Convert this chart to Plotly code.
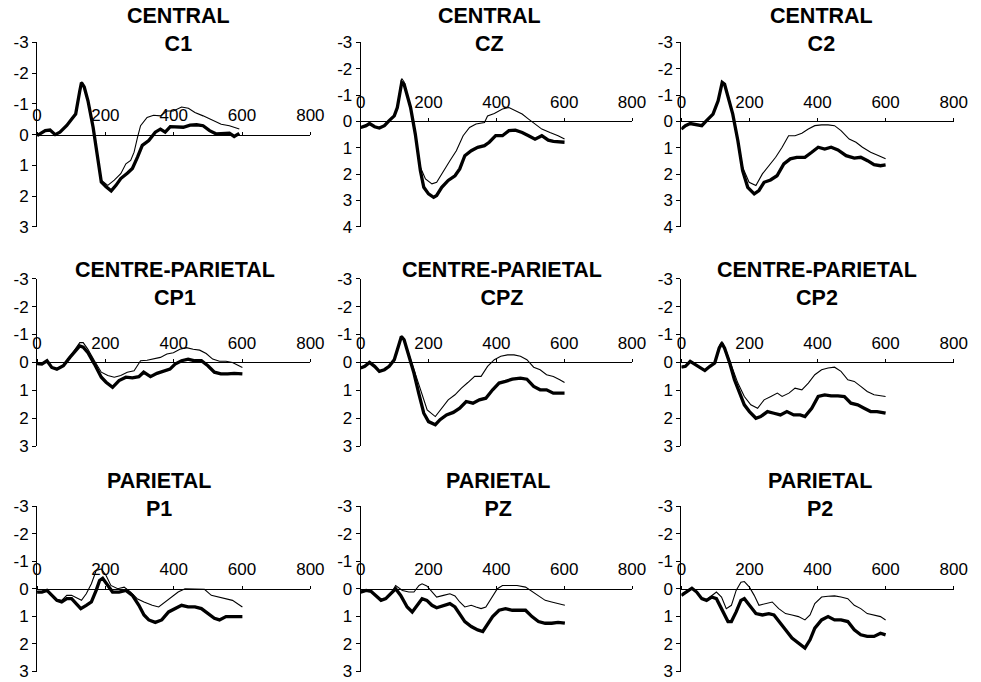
import plotly.graph_objects as go

# ---------------- data (time in ms, amplitude in microvolts; negative plotted up) ----------------
REGIONS = ["CENTRAL", "CENTRAL", "CENTRAL",
           "CENTRE-PARIETAL", "CENTRE-PARIETAL", "CENTRE-PARIETAL",
           "PARIETAL", "PARIETAL", "PARIETAL"]
ELECTRODES = ["C1", "CZ", "C2", "CP1", "CPZ", "CP2", "P1", "PZ", "P2"]
Y_BOTTOM = [3, 4, 4, 3, 3, 3, 3, 3, 3]
Y_TOP = -3
X_TICKS = [0, 200, 400, 600, 800]

C1_thick_t = [0,24,38,53,67,87,101,113,125,130,138,149,164,173,188,202,217,231,245,265,279,294,308,327,346,361,375,390,409,428,448,467,486,505,525,544,563,577,592]
C1_thick_v = [0.03,-0.13,-0.15,0,-0.08,-0.3,-0.5,-0.67,-1.42,-1.69,-1.55,-1.1,-0.24,0.4,1.54,1.7,1.83,1.65,1.43,1.25,1.1,0.73,0.35,0.19,-0.08,-0.18,-0.08,-0.26,-0.26,-0.24,-0.31,-0.32,-0.29,-0.13,-0.02,-0.04,-0.05,0.06,-0.04]
C1_thin_t = [0,24,38,53,67,87,101,113,125,130,138,149,164,173,188,207,226,245,260,274,284,294,303,322,341,361,380,399,423,443,462,486,515,539,563,592]
C1_thin_v = [0.03,-0.13,-0.15,0,-0.08,-0.3,-0.5,-0.67,-1.45,-1.72,-1.58,-1.15,-0.3,0.35,1.48,1.65,1.48,1.27,0.95,0.84,0.57,0.09,-0.29,-0.56,-0.63,-0.61,-0.77,-0.77,-0.9,-0.86,-0.72,-0.61,-0.47,-0.34,-0.29,-0.18]

CZ_thick_t = [0,16,26,41,55,70,84,99,108,121,128,137,147,161,176,186,200,215,224,239,258,278,292,307,326,345,365,379,398,418,437,456,476,495,514,534,553,568,587,601]
CZ_thick_v = [0.23,0.16,0.08,0.2,0.25,0.16,-0.03,-0.21,-0.53,-1.48,-1.41,-1.03,-0.53,0.48,1.87,2.5,2.75,2.88,2.81,2.5,2.24,2.06,1.8,1.3,1.11,0.98,0.92,0.79,0.54,0.54,0.35,0.33,0.42,0.54,0.67,0.54,0.71,0.76,0.76,0.79]
CZ_thin_t = [0,16,26,41,55,70,84,99,108,121,128,137,147,161,176,191,210,224,244,263,282,302,321,340,365,374,394,418,437,456,476,495,514,534,558,582,601]
CZ_thin_v = [0.23,0.16,0.08,0.2,0.25,0.16,-0.03,-0.21,-0.55,-1.63,-1.5,-1.05,-0.5,0.45,1.74,2.18,2.37,2.31,1.87,1.49,1.11,0.54,0.23,0.1,0.04,-0.21,-0.3,-0.47,-0.53,-0.4,-0.28,-0.09,0.1,0.29,0.42,0.54,0.67]

C2_thick_t = [0,12,26,45,60,74,93,108,120,127,140,151,166,180,195,214,228,243,262,281,301,320,339,363,383,402,421,440,460,484,508,527,547,566,585,600]
C2_thick_v = [0.29,0.16,0.08,0.13,0.16,-0.03,-0.28,-0.78,-1.48,-1.41,-0.78,-0.28,0.73,1.87,2.5,2.75,2.62,2.31,2.22,2.06,1.61,1.42,1.36,1.36,1.17,0.98,1.05,0.98,1.08,1.3,1.39,1.36,1.49,1.64,1.68,1.65]
C2_thin_t = [0,12,26,45,60,74,93,108,120,127,140,151,166,180,199,219,238,257,277,296,315,334,354,373,392,412,431,450,469,493,513,532,556,580,600]
C2_thin_v = [0.29,0.16,0.08,0.13,0.16,-0.03,-0.28,-0.78,-1.5,-1.42,-0.8,-0.3,0.7,1.74,2.31,2.43,1.99,1.68,1.36,0.98,0.54,0.54,0.45,0.29,0.16,0.13,0.13,0.16,0.35,0.67,0.79,0.98,1.17,1.3,1.42]

CP1_thick_t = [0,14,29,43,58,77,96,111,125,135,149,168,188,202,221,240,260,279,298,312,332,351,370,389,404,423,442,462,481,500,519,538,558,577,601]
CP1_thick_v = [0.04,0.06,-0.06,0.18,0.24,0.12,-0.18,-0.41,-0.59,-0.55,-0.35,0.06,0.53,0.71,0.89,0.65,0.53,0.55,0.51,0.35,0.51,0.39,0.3,0.24,0.06,-0.06,-0.12,-0.06,-0.06,0.12,0.35,0.41,0.41,0.39,0.41]
CP1_thin_t = [0,14,29,43,58,77,96,111,125,135,149,168,188,207,226,245,264,284,303,322,341,361,380,399,418,437,457,476,495,514,534,553,572,601]
CP1_thin_v = [0.04,0.06,-0.06,0.18,0.22,0.1,-0.2,-0.45,-0.71,-0.71,-0.47,-0.06,0.35,0.47,0.53,0.47,0.35,0.3,-0.06,-0.08,-0.12,-0.18,-0.3,-0.35,-0.47,-0.53,-0.47,-0.44,-0.32,-0.12,-0.04,-0.04,0,0.18]

CPZ_thick_t = [0,12,26,41,55,70,84,99,111,120,128,142,157,171,186,200,220,234,253,273,292,311,331,350,369,389,408,427,447,471,490,510,529,548,568,587,601]
CPZ_thick_v = [0.2,0.14,0,0.14,0.32,0.26,0.14,-0.1,-0.57,-0.93,-0.81,-0.27,0.38,1.1,1.82,2.12,2.23,2.05,1.88,1.79,1.64,1.4,1.46,1.34,1.28,0.98,0.74,0.68,0.6,0.56,0.6,0.86,0.98,0.98,1.1,1.1,1.1]
CPZ_thin_t = [0,12,26,41,55,70,84,99,111,120,128,142,157,176,196,220,239,258,278,297,316,336,355,374,394,413,433,452,471,490,510,529,548,568,587,601]
CPZ_thin_v = [0.2,0.14,0,0.14,0.32,0.26,0.14,-0.1,-0.57,-0.95,-0.82,-0.3,0.3,0.98,1.7,1.94,1.64,1.34,1.16,0.92,0.72,0.5,0.5,0.14,-0.1,-0.22,-0.27,-0.27,-0.22,-0.1,0.17,0.26,0.44,0.5,0.62,0.72]

CP2_thick_t = [0,12,26,41,55,69,84,98,111,119,127,142,156,171,185,200,219,233,253,272,291,310,330,349,363,383,402,421,440,460,479,498,518,537,556,575,600]
CP2_thick_v = [0.17,0.14,-0.04,0.08,0.2,0.29,0.14,0.02,-0.51,-0.69,-0.51,0.02,0.62,1.1,1.52,1.76,2.0,1.94,1.76,1.82,1.88,1.76,1.88,1.88,1.94,1.64,1.22,1.16,1.2,1.2,1.22,1.46,1.52,1.64,1.76,1.76,1.82]
CP2_thin_t = [0,12,26,41,55,69,84,98,111,119,132,147,166,185,204,224,243,263,282,296,316,334,354,373,392,412,431,450,469,489,508,527,546,566,600]
CP2_thin_v = [0.17,0.14,-0.04,0.08,0.2,0.27,0.12,0.0,-0.57,-0.75,-0.39,0.14,0.74,1.22,1.52,1.64,1.34,1.22,1.1,1.22,1.1,0.92,0.98,0.74,0.44,0.26,0.2,0.17,0.32,0.62,0.68,0.86,1.04,1.16,1.22]

P1_thick_t = [0,14,29,43,58,72,87,101,115,128,144,159,173,183,192,207,221,240,260,279,298,313,327,346,365,385,404,423,442,462,481,500,519,534,553,572,601]
P1_thick_v = [0.12,0.12,0.06,0.24,0.42,0.48,0.36,0.36,0.54,0.72,0.6,0.48,0.06,-0.3,-0.38,-0.12,0.12,0.12,0.06,0.24,0.6,0.95,1.13,1.22,1.13,0.84,0.72,0.6,0.66,0.66,0.72,0.9,1.07,1.13,1.01,1.01,1.01]
P1_thin_t = [0,14,29,43,58,72,87,101,120,130,144,159,173,188,202,216,236,255,274,293,313,337,356,375,394,413,433,452,471,490,510,529,548,572,601]
P1_thin_v = [0.1,0.1,0.04,0.2,0.38,0.42,0.24,0.24,0.36,0.42,0.18,-0.18,-0.66,-0.72,-0.48,-0.12,0,-0.06,0.12,0.36,0.48,0.6,0.66,0.48,0.3,0.12,0,0,0,0.02,0.24,0.3,0.36,0.42,0.66]

PZ_thick_t = [0,16,31,45,60,74,89,103,118,137,152,166,181,195,210,224,244,263,278,292,307,326,345,360,374,389,408,427,447,466,486,505,524,544,563,582,602]
PZ_thick_v = [0.12,0.06,0.1,0.24,0.42,0.36,0.18,0,0.24,0.66,0.84,0.6,0.36,0.42,0.6,0.69,0.62,0.54,0.66,0.9,1.19,1.37,1.49,1.55,1.31,1.01,0.78,0.72,0.78,0.78,0.78,1.01,1.19,1.25,1.25,1.22,1.25]
PZ_thin_t = [0,16,31,45,60,74,89,103,123,142,157,172,181,195,210,224,244,263,278,292,307,326,340,355,369,384,403,418,437,461,486,505,524,544,563,582,602]
PZ_thin_v = [0.12,0.06,0.1,0.24,0.4,0.36,0.18,-0.12,0.06,0.12,0.12,-0.12,-0.18,-0.1,0.12,0.3,0.24,0.18,0.26,0.48,0.66,0.6,0.66,0.72,0.66,0.36,0,-0.12,-0.12,-0.12,-0.06,0.1,0.24,0.42,0.48,0.54,0.6]

P2_thick_t = [0,16,31,45,60,74,89,103,122,137,147,161,175,185,200,219,238,257,272,286,306,325,344,363,378,392,412,431,450,469,489,508,527,546,566,585,600]
P2_thick_v = [0.24,0.12,-0.02,0.12,0.36,0.42,0.3,0.36,0.84,1.19,1.19,0.84,0.42,0.36,0.6,0.9,0.95,0.9,0.95,1.19,1.49,1.79,1.97,2.15,1.85,1.43,1.13,1.01,1.13,1.13,1.19,1.49,1.67,1.73,1.73,1.61,1.67]
P2_thin_t = [0,16,31,45,60,74,89,103,118,132,147,161,175,185,200,214,228,248,267,286,306,325,344,363,378,392,412,431,450,469,489,508,527,546,566,585,600]
P2_thin_v = [0.24,0.12,-0.02,0.12,0.34,0.4,0.24,0.12,0.3,0.72,0.6,0.06,-0.24,-0.26,-0.06,0.24,0.6,0.54,0.48,0.72,0.9,0.95,1.01,1.13,0.95,0.54,0.3,0.27,0.26,0.3,0.36,0.6,0.72,0.9,0.95,1.01,1.13]

SERIES = {
    "C1": (C1_thick_t, C1_thick_v, C1_thin_t, C1_thin_v),
    "CZ": (CZ_thick_t, CZ_thick_v, CZ_thin_t, CZ_thin_v),
    "C2": (C2_thick_t, C2_thick_v, C2_thin_t, C2_thin_v),
    "CP1": (CP1_thick_t, CP1_thick_v, CP1_thin_t, CP1_thin_v),
    "CPZ": (CPZ_thick_t, CPZ_thick_v, CPZ_thin_t, CPZ_thin_v),
    "CP2": (CP2_thick_t, CP2_thick_v, CP2_thin_t, CP2_thin_v),
    "P1": (P1_thick_t, P1_thick_v, P1_thin_t, P1_thin_v),
    "PZ": (PZ_thick_t, PZ_thick_v, PZ_thin_t, PZ_thin_v),
    "P2": (P2_thick_t, P2_thick_v, P2_thin_t, P2_thin_v),
}

# ---------------- layout geometry (target pixels on the page) ----------------
W, H = 981, 682
# measured mapping of paper coordinates onto the rendered page (body margin removed)
PX0, PXW, PY0, PYH = 2.5, 975.0, 8.5, 665.0


def fx(px):
    return (px - PX0) / PXW


def fy(py):
    return 1 - (py - PY0) / PYH


COLS_PX = [(35, 312), (363, 638), (688, 964)]
ROWS_PX = [(42, 227), (279, 447), (507, 673)]
TITLE_PX = [(178, 30), (494, 30), (830, 30),
            (175, 284), (506, 284), (825, 284),
            (159, 496), (502, 496), (829, 496)]
FONT = "Liberation Sans, Arial, sans-serif"

fig = go.Figure()
layout = {}
for i, name in enumerate(ELECTRODES):
    r, c = divmod(i, 3)
    sfx = "" if i == 0 else str(i + 1)
    x0, x1 = COLS_PX[c]
    y0, y1 = ROWS_PX[r]
    xd = [fx(x0), fx(x1)]
    yd = [max(0.0, fy(y1)), min(1.0, fy(y0))]
    yb = Y_BOTTOM[i]
    frac = yb / (yb - Y_TOP)
    pos = yd[0] + frac * (yd[1] - yd[0])

    tk, vk, tn, vn = SERIES[name]
    fig.add_trace(go.Scatter(x=tn, y=vn, mode="lines", line=dict(color="black", width=1.1),
                             xaxis="x" + sfx, yaxis="y" + sfx, showlegend=False, hoverinfo="skip"))
    fig.add_trace(go.Scatter(x=tk, y=vk, mode="lines", line=dict(color="black", width=3.3),
                             xaxis="x" + sfx, yaxis="y" + sfx, showlegend=False, hoverinfo="skip"))

    yticks = list(range(Y_TOP, yb + 1))
    layout["xaxis" + sfx] = dict(
        domain=xd, range=[0, 800], anchor="free", position=pos, side="top",
        tickvals=X_TICKS, ticktext=[str(v) for v in X_TICKS],
        ticks="outside", ticklen=3, tickcolor="black",
        showline=True, linecolor="black", linewidth=1.2, showgrid=False, zeroline=False,
        tickfont=dict(family=FONT, size=17, color="black"), ticklabelstandoff=4,
    )
    layout["yaxis" + sfx] = dict(
        domain=yd, range=[yb, Y_TOP], anchor="x" + sfx,
        tickvals=yticks, ticktext=[str(v) for v in yticks],
        ticks="outside", ticklen=4, tickcolor="black",
        showline=True, linecolor="black", linewidth=1, showgrid=False, zeroline=False,
        tickfont=dict(family=FONT, size=17, color="black"),
    )

annotations = []
for i, name in enumerate(ELECTRODES):
    cx, cy = TITLE_PX[i]
    annotations.append(dict(
        text="<b>%s<br>%s</b>" % (REGIONS[i], name), x=fx(cx), y=fy(cy),
        xref="paper", yref="paper", xanchor="center", yanchor="middle", showarrow=False,
        align="center", font=dict(family=FONT, size=21.5, color="black"),
    ))

fig.update_layout(
    width=W, height=H, margin=dict(l=0, r=0, t=0, b=0),
    paper_bgcolor="white", plot_bgcolor="white", annotations=annotations, **layout,
)
fig.write_html("out.html", config={"displayModeBar": False},
               post_script="document.body.style.margin='0';document.body.style.overflow='hidden';")
